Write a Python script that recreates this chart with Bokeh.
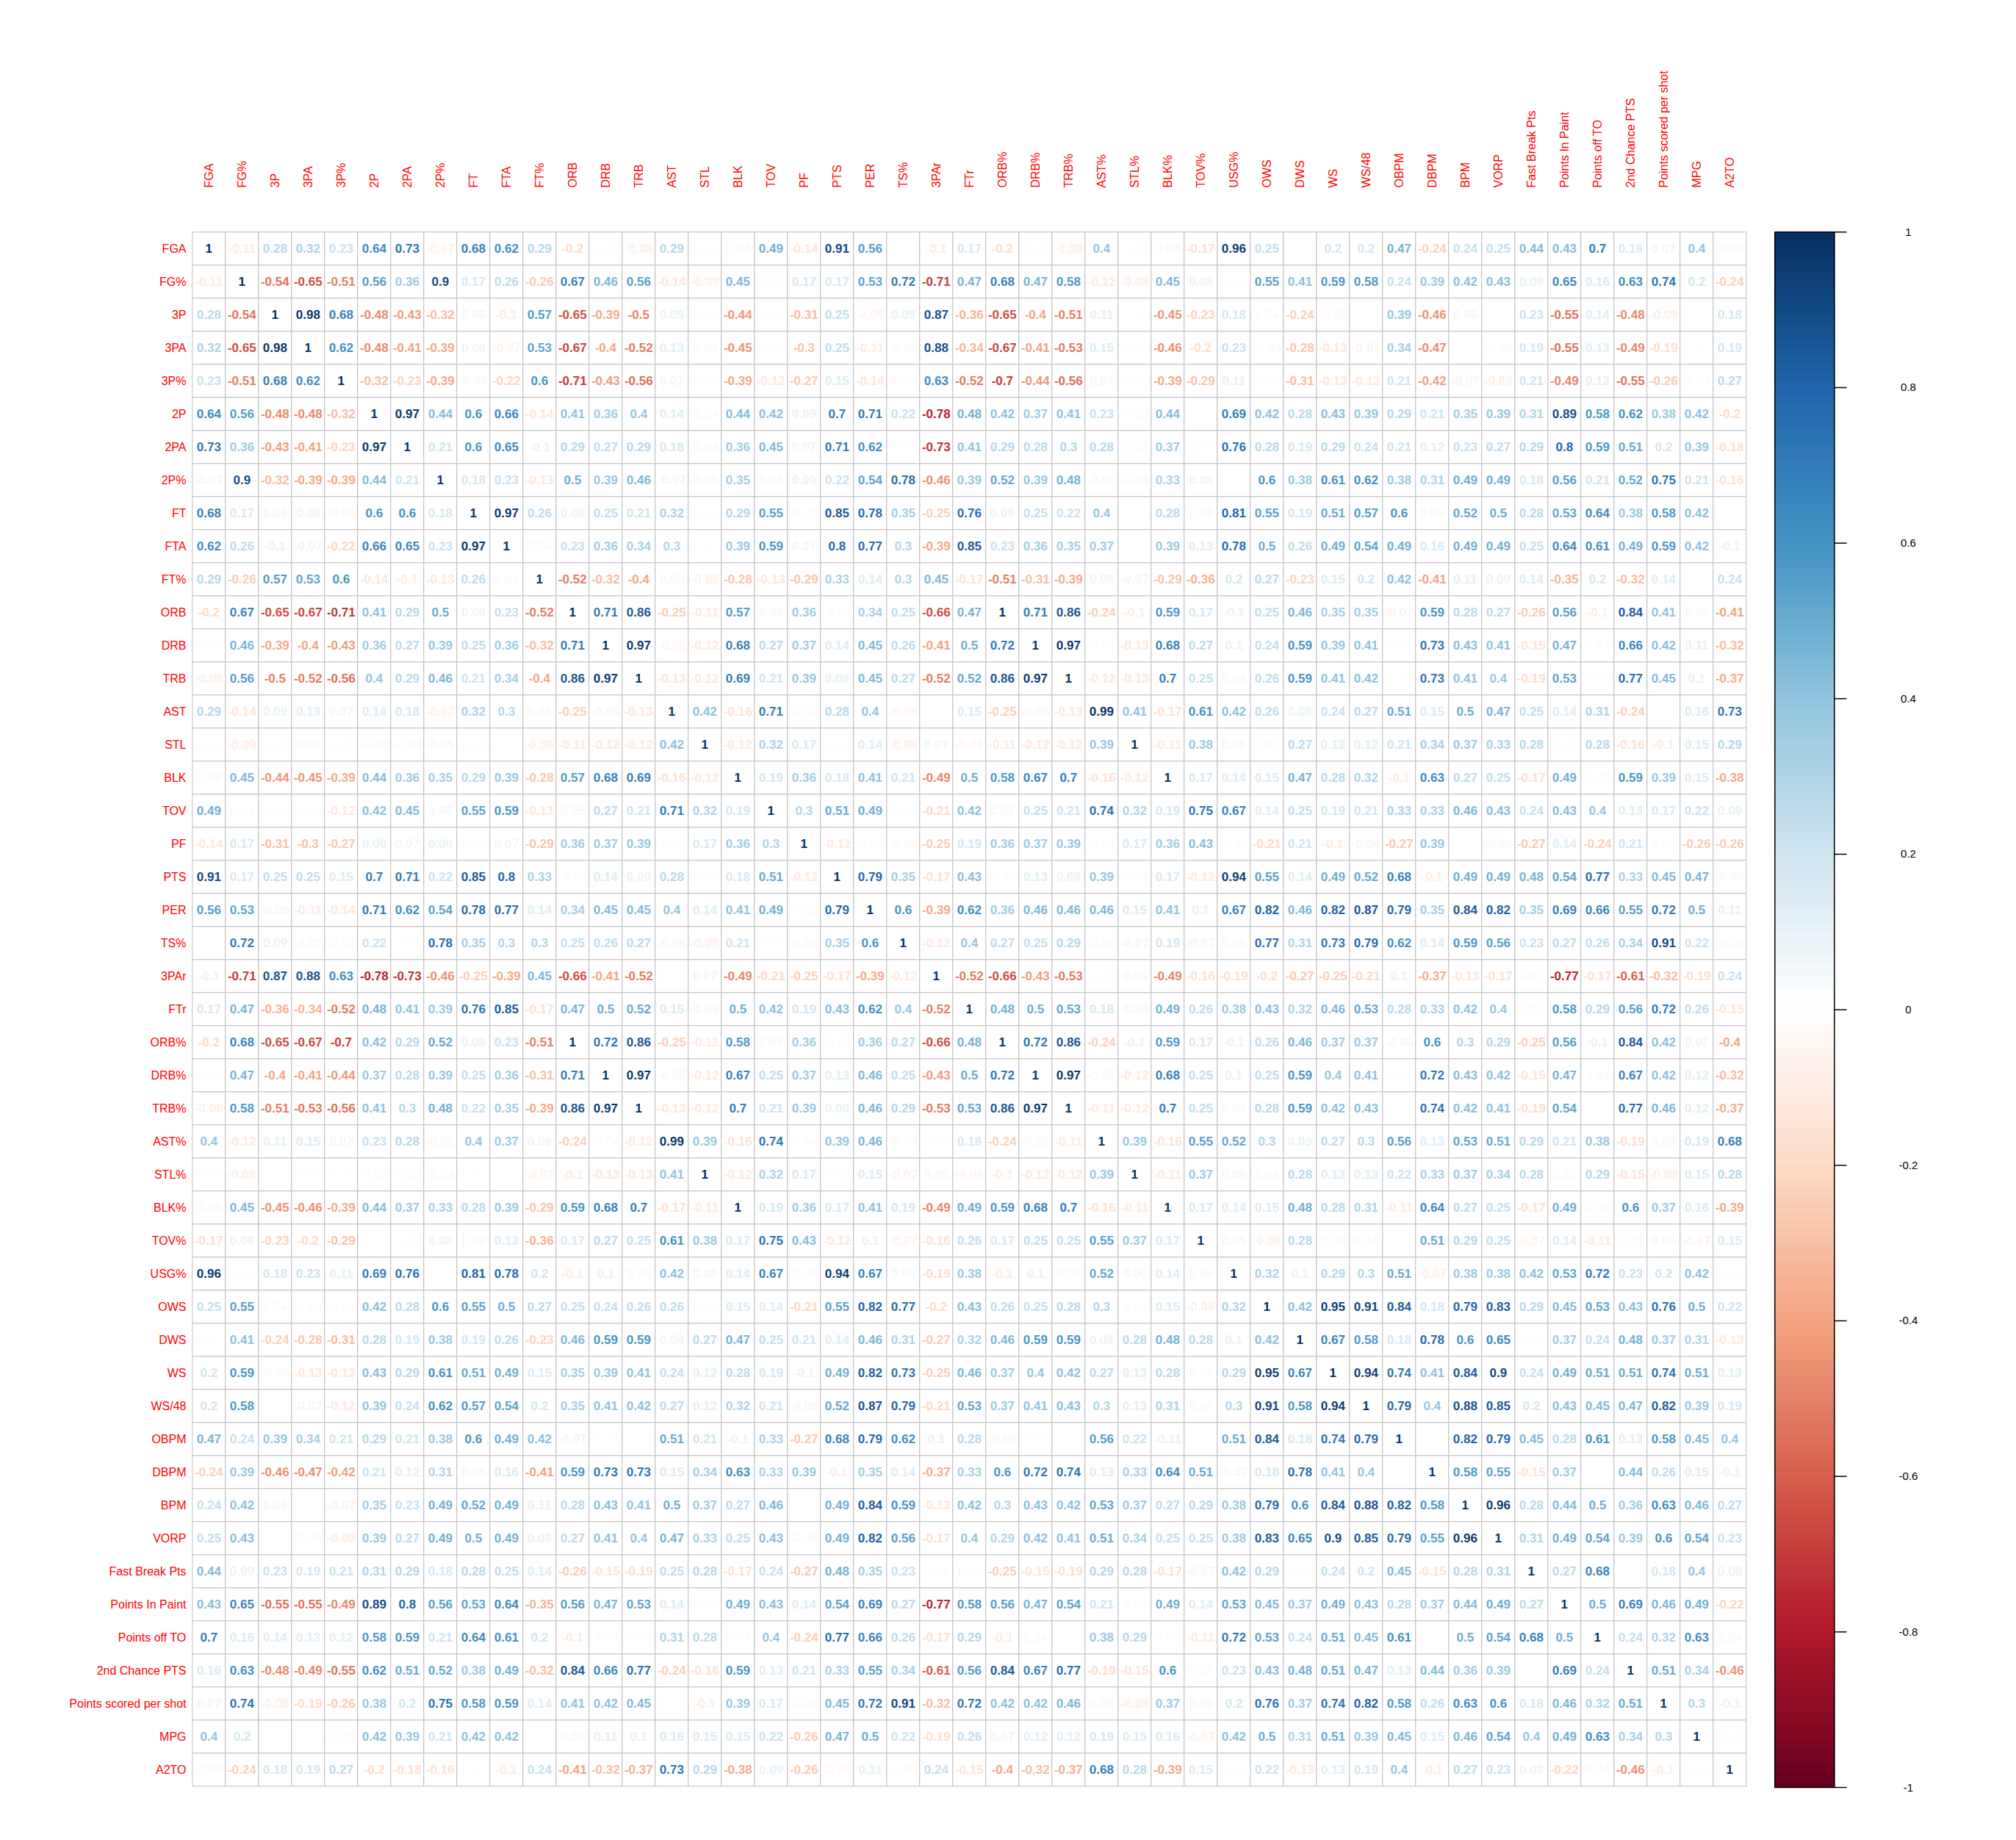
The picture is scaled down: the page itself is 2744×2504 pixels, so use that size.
import numpy as np
from bokeh.plotting import figure
from bokeh.models import ColumnDataSource, Range1d
from bokeh.core.properties import value
from bokeh.embed import file_html
from bokeh.resources import INLINE

# variable names, in matrix order
labels = ["FGA", "FG%", "3P", "3PA", "3P%", "2P", "2PA", "2P%", "FT", "FTA", "FT%",
          "ORB", "DRB", "TRB", "AST", "STL", "BLK", "TOV", "PF", "PTS", "PER", "TS%",
          "3PAr", "FTr", "ORB%", "DRB%", "TRB%", "AST%", "STL%", "BLK%", "TOV%", "USG%",
          "OWS", "DWS", "WS", "WS/48", "OBPM", "DBPM", "BPM", "VORP", "Fast Break Pts",
          "Points In Paint", "Points off TO", "2nd Chance PTS", "Points scored per shot",
          "MPG", "A2TO"]

# lower triangle of the correlation matrix, one row per variable (None = blank cell)
FGA = [1]
FG_pct = [-0.11, 1]
P3 = [0.28, -0.54, 1]
PA3 = [0.32, -0.65, 0.98, 1]
P3_pct = [0.23, -0.51, 0.68, 0.62, 1]
P2 = [0.64, 0.56, -0.48, -0.48, -0.32, 1]
PA2 = [0.73, 0.36, -0.43, -0.41, -0.23, 0.97, 1]
P2_pct = [-0.07, 0.9, -0.32, -0.39, -0.39, 0.44, 0.21, 1]
FT = [0.68, 0.17, 0.06, 0.08, -0.05, 0.6, 0.6, 0.18, 1]
FTA = [0.62, 0.26, -0.1, -0.07, -0.22, 0.66, 0.65, 0.23, 0.97, 1]
FT_pct = [0.29, -0.26, 0.57, 0.53, 0.6, -0.14, -0.1, -0.13, 0.26, 0.04, 1]
ORB = [-0.2, 0.67, -0.65, -0.67, -0.71, 0.41, 0.29, 0.5, 0.08, 0.23, -0.52, 1]
DRB = [-0.02, 0.46, -0.39, -0.4, -0.43, 0.36, 0.27, 0.39, 0.25, 0.36, -0.32, 0.71, 1]
TRB = [-0.08, 0.56, -0.5, -0.52, -0.56, 0.4, 0.29, 0.46, 0.21, 0.34, -0.4, 0.86, 0.97, 1]
AST = [0.29, -0.14, 0.09, 0.13, 0.07, 0.14, 0.18, -0.07, 0.32, 0.3, 0.05, -0.25, -0.06,
       -0.13, 1]
STL = [-0.02, -0.09, 0.02, 0.04, 0.02, -0.04, -0.04, -0.05, -0.02, -0.01, -0.08, -0.11,
       -0.12, -0.12, 0.42, 1]
BLK = [0.04, 0.45, -0.44, -0.45, -0.39, 0.44, 0.36, 0.35, 0.29, 0.39, -0.28, 0.57, 0.68,
       0.69, -0.16, -0.12, 1]
TOV = [0.49, 0.03, -0.02, 0.03, -0.12, 0.42, 0.45, 0.06, 0.55, 0.59, -0.13, 0.05, 0.27,
       0.21, 0.71, 0.32, 0.19, 1]
PF = [-0.14, 0.17, -0.31, -0.3, -0.27, 0.09, 0.07, 0.09, -0.03, 0.07, -0.29, 0.36, 0.37,
      0.39, -0.03, 0.17, 0.36, 0.3, 1]
PTS = [0.91, 0.17, 0.25, 0.25, 0.15, 0.7, 0.71, 0.22, 0.85, 0.8, 0.33, -0.04, 0.14, 0.09,
       0.28, -0.02, 0.18, 0.51, -0.12, 1]
PER = [0.56, 0.53, -0.06, -0.11, -0.14, 0.71, 0.62, 0.54, 0.78, 0.77, 0.14, 0.34, 0.45,
       0.45, 0.4, 0.14, 0.41, 0.49, -0.03, 0.79, 1]
TS_pct = [-0.01, 0.72, 0.09, -0.05, -0.03, 0.22, 0.02, 0.78, 0.35, 0.3, 0.3, 0.25, 0.26,
          0.27, -0.06, -0.08, 0.21, 0.02, -0.05, 0.35, 0.6, 1]
PAr3 = [-0.1, -0.71, 0.87, 0.88, 0.63, -0.78, -0.73, -0.46, -0.25, -0.39, 0.45, -0.66,
        -0.41, -0.52, 0.01, 0.07, -0.49, -0.21, -0.25, -0.17, -0.39, -0.12, 1]
FTr = [0.17, 0.47, -0.36, -0.34, -0.52, 0.48, 0.41, 0.39, 0.76, 0.85, -0.17, 0.47, 0.5,
       0.52, 0.15, -0.06, 0.5, 0.42, 0.19, 0.43, 0.62, 0.4, -0.52, 1]
ORB_pct = [-0.2, 0.68, -0.65, -0.67, -0.7, 0.42, 0.29, 0.52, 0.09, 0.23, -0.51, 1, 0.72,
           0.86, -0.25, -0.11, 0.58, 0.05, 0.36, -0.04, 0.36, 0.27, -0.66, 0.48, 1]
DRB_pct = [-0.02, 0.47, -0.4, -0.41, -0.44, 0.37, 0.28, 0.39, 0.25, 0.36, -0.31, 0.71, 1,
           0.97, -0.06, -0.12, 0.67, 0.25, 0.37, 0.13, 0.46, 0.25, -0.43, 0.5, 0.72, 1]
TRB_pct = [-0.08, 0.58, -0.51, -0.53, -0.56, 0.41, 0.3, 0.48, 0.22, 0.35, -0.39, 0.86,
           0.97, 1, -0.13, -0.12, 0.7, 0.21, 0.39, 0.09, 0.46, 0.29, -0.53, 0.53, 0.86,
           0.97, 1]
AST_pct = [0.4, -0.12, 0.11, 0.15, 0.07, 0.23, 0.28, -0.05, 0.4, 0.37, 0.08, -0.24, -0.04,
           -0.12, 0.99, 0.39, -0.16, 0.74, -0.04, 0.39, 0.46, -0.04, -0.02, 0.18, -0.24,
           -0.05, -0.11, 1]
STL_pct = [-0.02, -0.08, 0.01, 0.02, 0.02, -0.03, -0.03, -0.04, 0.01, None, -0.07, -0.1,
           -0.13, -0.13, 0.41, 1, -0.12, 0.32, 0.17, -0.02, 0.15, -0.07, 0.05, -0.06, -0.1,
           -0.12, -0.12, 0.39, 1]
BLK_pct = [0.04, 0.45, -0.45, -0.46, -0.39, 0.44, 0.37, 0.33, 0.28, 0.39, -0.29, 0.59,
           0.68, 0.7, -0.17, -0.11, 1, 0.19, 0.36, 0.17, 0.41, 0.19, -0.49, 0.49, 0.59,
           0.68, 0.7, -0.16, -0.11, 1]
TOV_pct = [-0.17, 0.08, -0.23, -0.2, -0.29, None, -0.02, 0.08, 0.04, 0.13, -0.36, 0.17,
           0.27, 0.25, 0.61, 0.38, 0.17, 0.75, 0.43, -0.12, 0.1, -0.07, -0.16, 0.26, 0.17,
           0.25, 0.25, 0.55, 0.37, 0.17, 1]
USG_pct = [0.96, -0.02, 0.18, 0.23, 0.11, 0.69, 0.76, 0.01, 0.81, 0.78, 0.2, -0.1, 0.1,
           0.04, 0.42, 0.06, 0.14, 0.67, -0.04, 0.94, 0.67, 0.05, -0.19, 0.38, -0.1, 0.1,
           0.04, 0.52, 0.06, 0.14, 0.05, 1]
OWS = [0.25, 0.55, 0.04, -0.04, -0.03, 0.42, 0.28, 0.6, 0.55, 0.5, 0.27, 0.25, 0.24, 0.26,
       0.26, 0.03, 0.15, 0.14, -0.21, 0.55, 0.82, 0.77, -0.2, 0.43, 0.26, 0.25, 0.28, 0.3,
       0.04, 0.15, -0.08, 0.32, 1]
DWS = [-0.01, 0.41, -0.24, -0.28, -0.31, 0.28, 0.19, 0.38, 0.19, 0.26, -0.23, 0.46, 0.59,
       0.59, 0.08, 0.27, 0.47, 0.25, 0.21, 0.14, 0.46, 0.31, -0.27, 0.32, 0.46, 0.59, 0.59,
       0.09, 0.28, 0.48, 0.28, 0.1, 0.42, 1]
WS = [0.2, 0.59, -0.05, -0.13, -0.13, 0.43, 0.29, 0.61, 0.51, 0.49, 0.15, 0.35, 0.39, 0.41,
      0.24, 0.12, 0.28, 0.19, -0.1, 0.49, 0.82, 0.73, -0.25, 0.46, 0.37, 0.4, 0.42, 0.27,
      0.13, 0.28, 0.03, 0.29, 0.95, 0.67, 1]
WS48 = [0.2, 0.58, None, -0.07, -0.12, 0.39, 0.24, 0.62, 0.57, 0.54, 0.2, 0.35, 0.41, 0.42,
        0.27, 0.12, 0.32, 0.21, -0.06, 0.52, 0.87, 0.79, -0.21, 0.53, 0.37, 0.41, 0.43, 0.3,
        0.13, 0.31, 0.04, 0.3, 0.91, 0.58, 0.94, 1]
OBPM = [0.47, 0.24, 0.39, 0.34, 0.21, 0.29, 0.21, 0.38, 0.6, 0.49, 0.42, -0.07, 0.02, -0.01,
        0.51, 0.21, -0.1, 0.33, -0.27, 0.68, 0.79, 0.62, 0.1, 0.28, -0.06, 0.02, None, 0.56,
        0.22, -0.11, 0.01, 0.51, 0.84, 0.18, 0.74, 0.79, 1]
DBPM = [-0.24, 0.39, -0.46, -0.47, -0.42, 0.21, 0.12, 0.31, 0.05, 0.16, -0.41, 0.59, 0.73,
        0.73, 0.15, 0.34, 0.63, 0.33, 0.39, -0.1, 0.35, 0.14, -0.37, 0.33, 0.6, 0.72, 0.74,
        0.13, 0.33, 0.64, 0.51, -0.07, 0.18, 0.78, 0.41, 0.4, None, 1]
BPM = [0.24, 0.42, 0.06, None, -0.07, 0.35, 0.23, 0.49, 0.52, 0.49, 0.11, 0.28, 0.43, 0.41,
       0.5, 0.37, 0.27, 0.46, None, 0.49, 0.84, 0.59, -0.13, 0.42, 0.3, 0.43, 0.42, 0.53,
       0.37, 0.27, 0.29, 0.38, 0.79, 0.6, 0.84, 0.88, 0.82, 0.58, 1]
VORP = [0.25, 0.43, None, -0.04, -0.09, 0.39, 0.27, 0.49, 0.5, 0.49, 0.09, 0.27, 0.41, 0.4,
        0.47, 0.33, 0.25, 0.43, -0.05, 0.49, 0.82, 0.56, -0.17, 0.4, 0.29, 0.42, 0.41, 0.51,
        0.34, 0.25, 0.25, 0.38, 0.83, 0.65, 0.9, 0.85, 0.79, 0.55, 0.96, 1]
FAST_BREAK = [0.44, 0.09, 0.23, 0.19, 0.21, 0.31, 0.29, 0.18, 0.28, 0.25, 0.14, -0.26,
              -0.15, -0.19, 0.25, 0.28, -0.17, 0.24, -0.27, 0.48, 0.35, 0.23, 0.03, 0.03,
              -0.25, -0.15, -0.19, 0.29, 0.28, -0.17, -0.07, 0.42, 0.29, 0.02, 0.24, 0.2,
              0.45, -0.15, 0.28, 0.31, 1]
PAINT = [0.43, 0.65, -0.55, -0.55, -0.49, 0.89, 0.8, 0.56, 0.53, 0.64, -0.35, 0.56, 0.47,
         0.53, 0.14, 0.02, 0.49, 0.43, 0.14, 0.54, 0.69, 0.27, -0.77, 0.58, 0.56, 0.47,
         0.54, 0.21, 0.03, 0.49, 0.14, 0.53, 0.45, 0.37, 0.49, 0.43, 0.28, 0.37, 0.44,
         0.49, 0.27, 1]
OFF_TO = [0.7, 0.16, 0.14, 0.13, 0.12, 0.58, 0.59, 0.21, 0.64, 0.61, 0.2, -0.1, 0.03, -0.02,
          0.31, 0.28, 0.03, 0.4, -0.24, 0.77, 0.66, 0.26, -0.17, 0.29, -0.1, 0.04, None,
          0.38, 0.29, 0.03, -0.11, 0.72, 0.53, 0.24, 0.51, 0.45, 0.61, None, 0.5, 0.54,
          0.68, 0.5, 1]
SECOND_CHANCE = [0.16, 0.63, -0.48, -0.49, -0.55, 0.62, 0.51, 0.52, 0.38, 0.49, -0.32,
                 0.84, 0.66, 0.77, -0.24, -0.16, 0.59, 0.13, 0.21, 0.33, 0.55, 0.34, -0.61,
                 0.56, 0.84, 0.67, 0.77, -0.19, -0.15, 0.6, 0.03, 0.23, 0.43, 0.48, 0.51,
                 0.47, 0.13, 0.44, 0.36, 0.39, None, 0.69, 0.24, 1]
PTS_PER_SHOT = [0.07, 0.74, -0.09, -0.19, -0.26, 0.38, 0.2, 0.75, 0.58, 0.59, 0.14, 0.41,
                0.42, 0.45, 0.01, -0.1, 0.39, 0.17, 0.03, 0.45, 0.72, 0.91, -0.32, 0.72,
                0.42, 0.42, 0.46, 0.05, -0.09, 0.37, 0.05, 0.2, 0.76, 0.37, 0.74, 0.82,
                0.58, 0.26, 0.63, 0.6, 0.18, 0.46, 0.32, 0.51, 1]
MPG = [0.4, 0.2, None, -0.01, -0.03, 0.42, 0.39, 0.21, 0.42, 0.42, None, 0.05, 0.11, 0.1,
       0.16, 0.15, 0.15, 0.22, -0.26, 0.47, 0.5, 0.22, -0.19, 0.26, 0.07, 0.12, 0.12, 0.19,
       0.15, 0.16, -0.07, 0.42, 0.5, 0.31, 0.51, 0.39, 0.45, 0.15, 0.46, 0.54, 0.4, 0.49,
       0.63, 0.34, 0.3, 1]
A2TO = [-0.04, -0.24, 0.18, 0.19, 0.27, -0.2, -0.18, -0.16, 0.01, -0.1, 0.24, -0.41, -0.32,
        -0.37, 0.73, 0.29, -0.38, 0.09, -0.26, -0.05, 0.11, -0.04, 0.24, -0.15, -0.4, -0.32,
        -0.37, 0.68, 0.28, -0.39, 0.15, -0.02, 0.22, -0.13, 0.13, 0.19, 0.4, -0.1, 0.27,
        0.23, 0.08, -0.22, 0.04, -0.46, -0.1, -0.02, 1]

lower = [FGA, FG_pct, P3, PA3, P3_pct, P2, PA2, P2_pct, FT, FTA, FT_pct, ORB, DRB, TRB,
         AST, STL, BLK, TOV, PF, PTS, PER, TS_pct, PAr3, FTr, ORB_pct, DRB_pct, TRB_pct,
         AST_pct, STL_pct, BLK_pct, TOV_pct, USG_pct, OWS, DWS, WS, WS48, OBPM, DBPM, BPM,
         VORP, FAST_BREAK, PAINT, OFF_TO, SECOND_CHANCE, PTS_PER_SHOT, MPG, A2TO]

cbar_ticks = [1, 0.8, 0.6, 0.4, 0.2, 0, -0.2, -0.4, -0.6, -0.8, -1]
cbar_tick_labels = ["1", "0.8", "0.6", "0.4", "0.2", "0", "-0.2", "-0.4", "-0.6", "-0.8", "-1"]

# corrplot's RdBu ramp
rdbu = ["#67001F", "#B2182B", "#D6604D", "#F4A582", "#FDDBC7", "#FFFFFF",
        "#D1E5F0", "#92C5DE", "#4393C3", "#2166AC", "#053061"]


def ramp(hexes, n):
    rgb = np.array([[int(h[k:k + 2], 16) for k in (1, 3, 5)] for h in hexes], float)
    pos = np.linspace(0, 1, len(hexes))
    t = np.linspace(0, 1, n)
    chans = [np.interp(t, pos, rgb[:, c]) for c in range(3)]
    return ["#%02x%02x%02x" % tuple(int(round(chans[c][k])) for c in range(3))
            for k in range(n)]


palette = ramp(rdbu, 200)


def colour_of(v):
    k = int(round((v + 1) / 2 * (len(palette) - 1)))
    return palette[min(max(k, 0), len(palette) - 1)]


n = len(labels)
for i, row in enumerate(lower):
    assert len(row) == i + 1, (labels[i], len(row))


def corr(i, j):
    return lower[i][j] if j <= i else lower[j][i]


# page layout (pixels): grid top-left corner and cell size
W, H = 2728, 2488
X0, Y0, CELL = 269.3, 323.3, 45.0

p = figure(width=W, height=H,
           x_range=Range1d((8 - X0) / CELL, (8 + W - X0) / CELL),
           y_range=Range1d((8 + H - Y0) / CELL, (8 - Y0) / CELL),
           x_axis_type=None, y_axis_type=None, toolbar_location=None,
           output_backend="svg", min_border=0)
p.grid.visible = False
p.outline_line_color = None
p.background_fill_color = "white"
p.border_fill_color = "white"

# cells
cl, cr, ct, cb = [], [], [], []
tx, ty, tt, tc = [], [], [], []
for i in range(n):
    for j in range(n):
        cl.append(j); cr.append(j + 1); ct.append(i); cb.append(i + 1)
        v = corr(i, j)
        if v is None:
            continue
        tx.append(j + 0.5); ty.append(i + 0.5)
        tt.append("%g" % v)
        tc.append(colour_of(v))

p.quad(left=cl, right=cr, top=ct, bottom=cb, fill_color="white",
       line_color="#BEBEBE", line_width=1)
p.text(x=tx, y=ty, text=tt, text_color=tc, text_font=value("Liberation Sans"),
       text_font_style="bold", text_font_size="17px", text_align="center",
       text_baseline="middle")

# labels
idx = np.arange(n)
p.text(x=list(idx + 0.5), y=[(263 - Y0) / CELL] * n, text=labels, angle=np.pi / 2,
       text_color="#FF0000", text_font=value("Liberation Sans"), text_font_size="16px",
       text_align="left", text_baseline="middle")
p.text(x=[(261 - X0) / CELL] * n, y=list(idx + 0.5), text=labels,
       text_color="#FF0000", text_font=value("Liberation Sans"), text_font_size="16px",
       text_align="right", text_baseline="middle")

# colour legend
cb_left, cb_right = (2423.3 - X0) / CELL, (2504.3 - X0) / CELL
cb_tick_end = (2521 - X0) / CELL
cb_label_x = (2605 - X0) / CELL
cb_height = (2440 - Y0) / CELL


def cb_y(v):
    return (1 - v) / 2 * cb_height


edges = np.linspace(-1, 1, len(palette) + 1)
p.quad(left=cb_left, right=cb_right, bottom=[cb_y(e) for e in edges[:-1]],
       top=[cb_y(e) for e in edges[1:]], fill_color=palette, line_color=palette,
       line_width=1)
p.quad(left=[cb_left], right=[cb_right], top=[cb_y(1)], bottom=[cb_y(-1)],
       fill_color=None, line_color="black", line_width=1.5)
p.segment(x0=cb_right, x1=cb_tick_end, y0=[cb_y(t) for t in cbar_ticks],
          y1=[cb_y(t) for t in cbar_ticks], line_color="black", line_width=1.5)
p.text(x=[cb_label_x] * len(cbar_ticks), y=[cb_y(t) for t in cbar_ticks],
       text=cbar_tick_labels, text_color="black", text_font=value("Liberation Sans"),
       text_font_size="15px", text_align="center", text_baseline="middle")

open("out.html", "w").write(file_html(p, INLINE))
